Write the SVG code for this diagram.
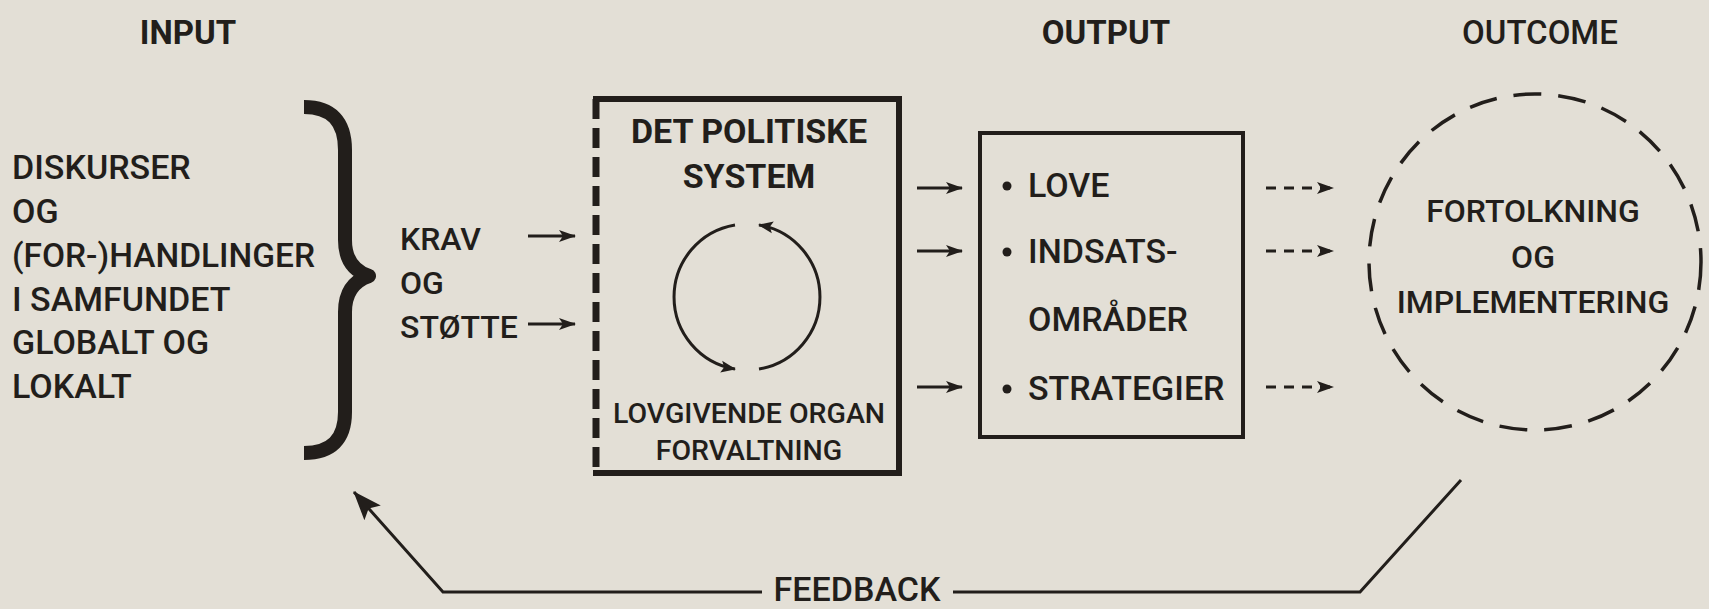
<svg xmlns="http://www.w3.org/2000/svg" width="1709" height="609" viewBox="0 0 1709 609">
<style>
  text { font-family: Roboto, "Liberation Sans", sans-serif; fill: #221e1b; font-weight: 500; }
  .t { font-size: 34px; }
  .k { font-size: 32px; }
  .c { font-size: 32px; }
  .h { font-size: 33px; font-weight: bold; }
  .s { font-size: 28.5px; }
  .m { text-anchor: middle; }
  .ln { stroke: #221e1b; fill: none; }
</style>
<defs>
  <marker id="ah" markerUnits="userSpaceOnUse" markerWidth="18" markerHeight="14" refX="16" refY="7" orient="auto">
    <path d="M0,1 L17,7 L0,13 L4,7 Z" fill="#221e1b"/>
  </marker>
  <marker id="ahc" markerUnits="userSpaceOnUse" markerWidth="16" markerHeight="14" refX="14" refY="7" orient="auto">
    <path d="M0,1 L15,7 L0,13 L3,7 Z" fill="#221e1b"/>
  </marker>
  <marker id="ahf" markerUnits="userSpaceOnUse" markerWidth="30" markerHeight="24" refX="28" refY="12" orient="auto">
    <path d="M0,1 L29,12 L0,23 L6,12 Z" fill="#221e1b"/>
  </marker>
</defs>
<rect width="1709" height="609" fill="#e3dfd6"/>

<g id="headers">
  <text class="h m" x="188" y="44">INPUT</text>
  <text class="h m" x="1106" y="44">OUTPUT</text>
  <text class="c m" x="1540" y="44" style="font-size:33px">OUTCOME</text>
</g>

<g id="input-society">
  <text class="t" x="12" y="179">DISKURSER</text>
  <text class="t" x="12" y="223">OG</text>
  <text class="t" x="12" y="267" textLength="303" lengthAdjust="spacingAndGlyphs">(FOR-)HANDLINGER</text>
  <text class="t" x="12" y="311">I SAMFUNDET</text>
  <text class="t" x="12" y="354">GLOBALT OG</text>
  <text class="t" x="12" y="398">LOKALT</text>
</g>

<g id="brace">
  <path class="ln" stroke-width="14" stroke-linejoin="round" stroke-linecap="butt" d="M 304 107 Q 345 107 345 150 L 345 240 Q 345 268 369 276 Q 345 284 345 312 L 345 412 Q 345 453 304 453"/>
</g>

<g id="input-demands">
  <text class="k" x="400" y="250">KRAV</text>
  <text class="k" x="400" y="294">OG</text>
  <text class="k" x="400" y="338">STØTTE</text>
</g>

<g id="political-system">
  <path class="ln" stroke-width="6" d="M 593 99 L 899 99 L 899 473 L 593 473"/>
  <line class="ln" x1="596" y1="99" x2="596" y2="476" stroke-width="7" stroke-dasharray="20 9"/>
  <text class="h m" x="749" y="143" style="font-size:34px">DET POLITISKE</text>
  <text class="h m" x="749" y="188" style="font-size:34px">SYSTEM</text>
  <path class="ln" stroke-width="3" d="M 735 225 A 73 73 0 0 0 735 369" marker-end="url(#ahc)"/>
  <path class="ln" stroke-width="3" d="M 759 369 A 73 73 0 0 0 759 225" marker-end="url(#ahc)"/>
  <text class="s m" x="749" y="423">LOVGIVENDE ORGAN</text>
  <text class="s m" x="749" y="460">FORVALTNING</text>
</g>

<g id="output">
  <rect class="ln" x="980" y="133" width="263" height="304" stroke-width="4"/>
  <circle cx="1007" cy="186" r="4.5" fill="#221e1b"/>
  <text class="t" x="1028" y="197">LOVE</text>
  <circle cx="1007" cy="252" r="4.5" fill="#221e1b"/>
  <text class="t" x="1028" y="263">INDSATS-</text>
  <text class="t" x="1028" y="331">OMRÅDER</text>
  <circle cx="1007" cy="389" r="4.5" fill="#221e1b"/>
  <text class="t" x="1028" y="400">STRATEGIER</text>
</g>

<g id="outcome">
  <ellipse class="ln" cx="1535" cy="262" rx="166" ry="168" stroke-width="3.5" stroke-dasharray="28 17"/>
  <text class="c m" x="1533" y="222">FORTOLKNING</text>
  <text class="c m" x="1533" y="268">OG</text>
  <text class="c m" x="1533" y="313">IMPLEMENTERING</text>
</g>

<g id="connectors">
  <line class="ln" x1="528" y1="236" x2="575" y2="236" stroke-width="3" marker-end="url(#ah)"/>
  <line class="ln" x1="528" y1="324" x2="575" y2="324" stroke-width="3" marker-end="url(#ah)"/>
  <line class="ln" x1="917" y1="188" x2="962" y2="188" stroke-width="3" marker-end="url(#ah)"/>
  <line class="ln" x1="917" y1="251" x2="962" y2="251" stroke-width="3" marker-end="url(#ah)"/>
  <line class="ln" x1="917" y1="387" x2="962" y2="387" stroke-width="3" marker-end="url(#ah)"/>
  <line class="ln" x1="1266" y1="188" x2="1333" y2="188" stroke-width="3" stroke-dasharray="10 8" marker-end="url(#ah)"/>
  <line class="ln" x1="1266" y1="251" x2="1333" y2="251" stroke-width="3" stroke-dasharray="10 8" marker-end="url(#ah)"/>
  <line class="ln" x1="1266" y1="387" x2="1333" y2="387" stroke-width="3" stroke-dasharray="10 8" marker-end="url(#ah)"/>
  <path class="ln" stroke-width="3" d="M 1461 480 L 1360 592 L 953 592"/>
  <path class="ln" stroke-width="3" d="M 762 592 L 443 592 L 354 492" marker-end="url(#ahf)"/>
  <text class="t m" x="857" y="601">FEEDBACK</text>
</g>
</svg>
